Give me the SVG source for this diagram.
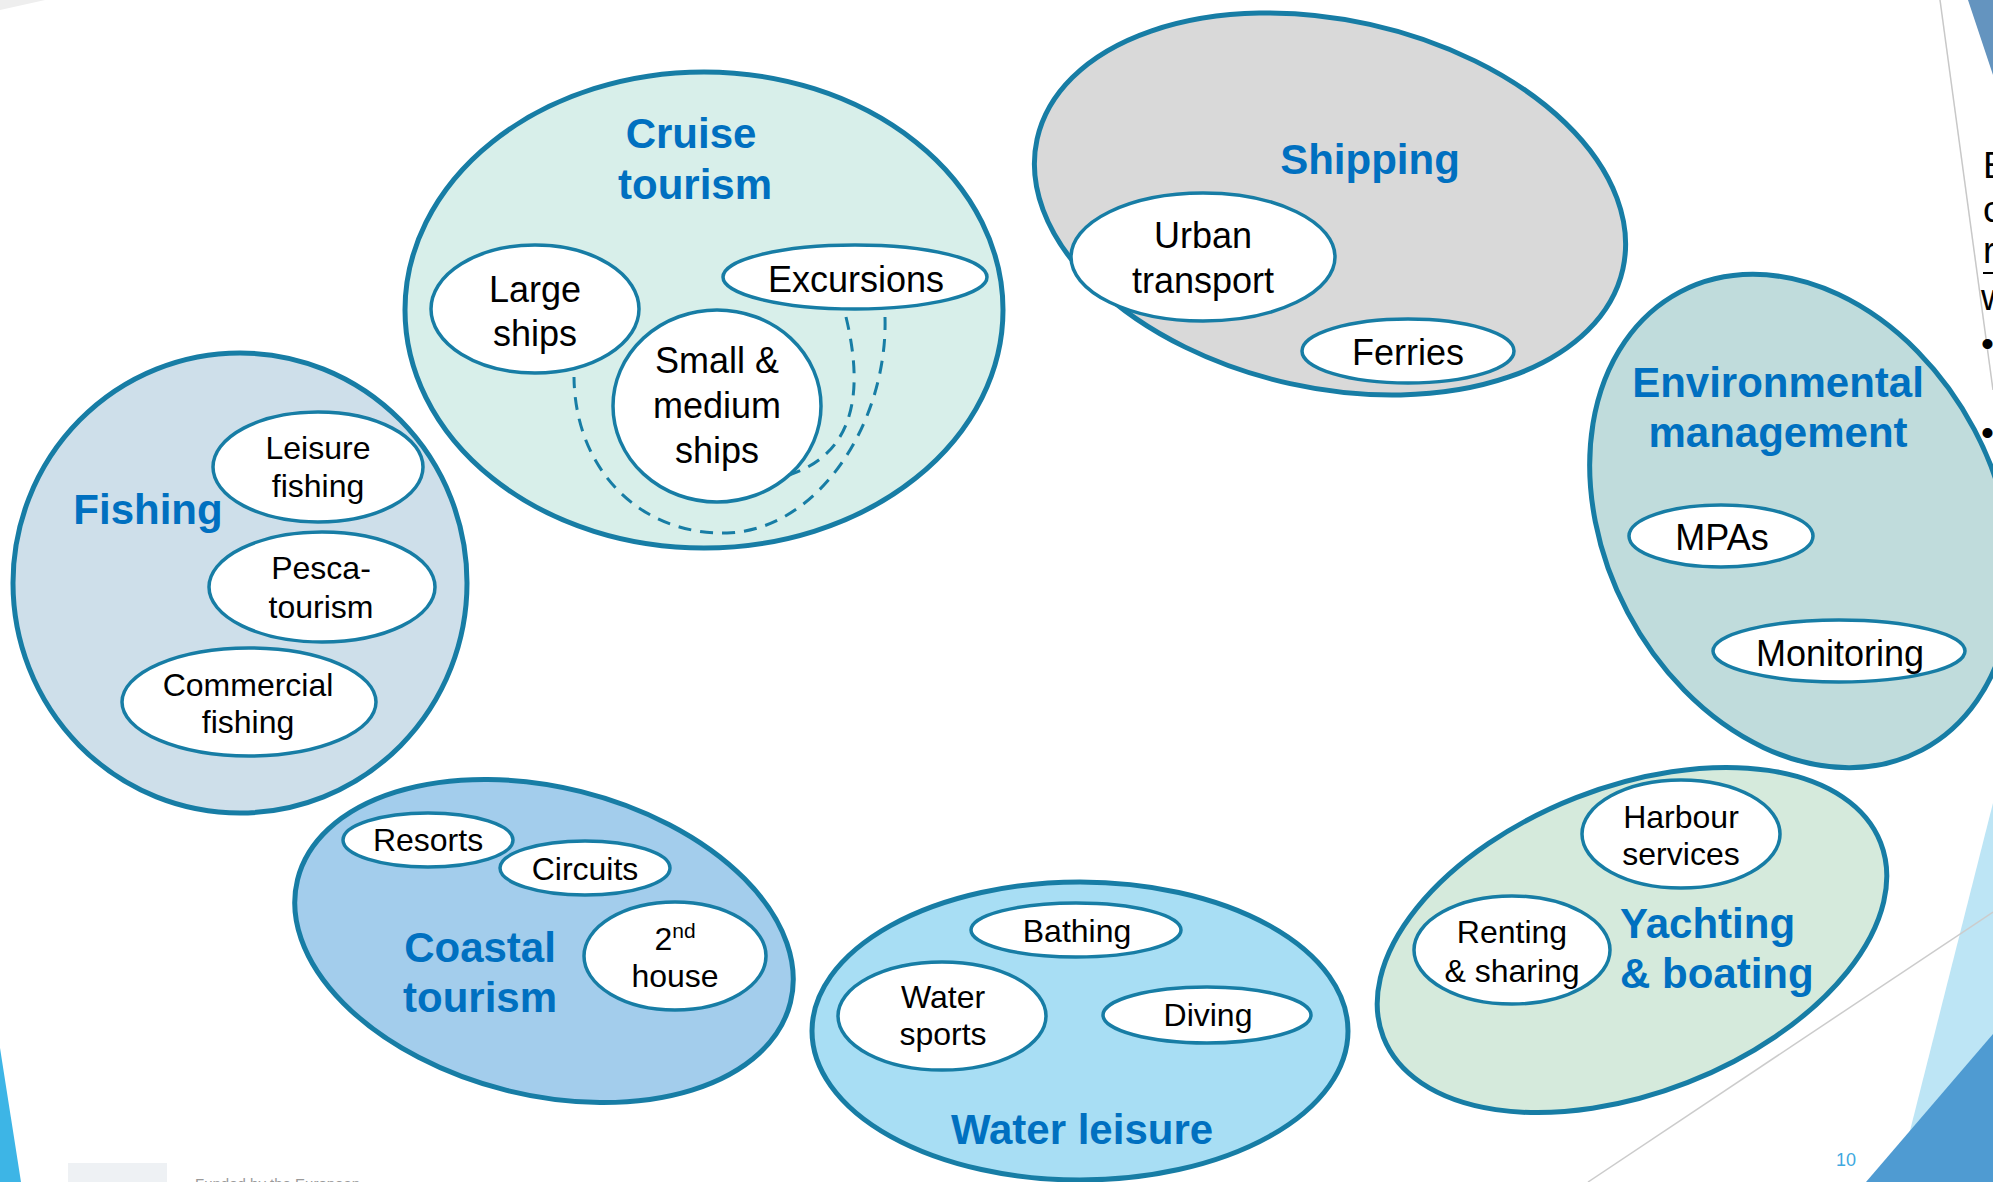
<svg xmlns="http://www.w3.org/2000/svg" width="1993" height="1182" viewBox="0 0 1993 1182">
<style>
.outer{stroke:#177DA5;stroke-width:5}
.inner{fill:#FFFFFF;stroke:#177DA5;stroke-width:3.5}
.title{font-family:"Liberation Sans",Arial,sans-serif;font-weight:bold;font-size:42px;fill:#0070C0;text-anchor:middle}
.lbl{font-family:"Liberation Sans",Arial,sans-serif;font-size:36px;fill:#000000;text-anchor:middle}
.lbs{font-family:"Liberation Sans",Arial,sans-serif;font-size:32px;fill:#000000;text-anchor:middle}
.bg{font-family:"Liberation Sans",Arial,sans-serif;font-size:37px;fill:#000000}
.dash{fill:none;stroke:#177DA5;stroke-width:3;stroke-dasharray:13 9}
</style>
<rect x="0" y="0" width="1993" height="1182" fill="#FFFFFF"/>
<g id="background">
  <polygon points="0,0 45,0 0,10" fill="#EEEEEE"/>
  <polygon points="0,1048 21,1182 0,1182" fill="#3DB5E6"/>
  <polygon points="1968,0 1993,0 1993,75" fill="#6494BF"/>
  <line x1="1940" y1="0" x2="1993" y2="390" stroke="#C8C8C8" stroke-width="1.5"/>
  <polygon points="1993,803 1897,1182 1993,1182" fill="#BDE5F5"/>
  <polygon points="1993,1034 1866,1182 1993,1182" fill="#4F9BD2"/>
  <line x1="1993" y1="912" x2="1588" y2="1182" stroke="#CCCCCC" stroke-width="1.5"/>
  <text class="bg" x="1983" y="178">E</text>
  <text class="bg" x="1983" y="222">c</text>
  <text class="bg" x="1983" y="263">r</text>
  <line x1="1983" y1="273" x2="1993" y2="273" stroke="#000000" stroke-width="2"/>
  <text class="bg" x="1981" y="310">w</text>
  <text class="bg" x="1981" y="356">•</text>
  <text class="bg" x="1981" y="445">•</text>
  <text x="1846" y="1166" font-family="'Liberation Sans',Arial,sans-serif" font-size="18" fill="#3FA9E0" text-anchor="middle">10</text>
  <rect x="68" y="1163" width="99" height="19" fill="#EEF1F4"/>
  <text x="195" y="1189" font-family="'Liberation Sans',Arial,sans-serif" font-size="15" fill="#9A9A9A">Funded by the European</text>
</g>

<g id="cruise-tourism">
  <ellipse class="outer" cx="704" cy="310" rx="299" ry="238" fill="#D8EFEA"/>
  <text class="title" x="691" y="148">Cruise</text>
  <text class="title" x="695" y="199">tourism</text>
  <g id="large-ships">
    <ellipse class="inner" cx="535" cy="309" rx="104" ry="64"/>
    <text class="lbl" x="535" y="302">Large</text>
    <text class="lbl" x="535" y="346">ships</text>
  </g>
  <g id="excursions">
    <ellipse class="inner" cx="855" cy="277" rx="132" ry="32"/>
    <text class="lbl" x="856" y="292">Excursions</text>
  </g>
  <g id="small-medium-ships">
    <ellipse class="inner" cx="717" cy="406" rx="104" ry="96"/>
    <text class="lbl" x="717" y="373">Small &amp;</text>
    <text class="lbl" x="717" y="418">medium</text>
    <text class="lbl" x="717" y="463">ships</text>
  </g>
</g>

<g id="fishing">
  <ellipse class="outer" cx="240" cy="583" rx="227" ry="230" fill="#CEDFEA"/>
  <text class="title" x="148" y="524">Fishing</text>
  <g id="leisure-fishing">
    <ellipse class="inner" cx="318" cy="467" rx="105" ry="55"/>
    <text class="lbs" x="318" y="459">Leisure</text>
    <text class="lbs" x="318" y="497">fishing</text>
  </g>
  <g id="pesca-tourism">
    <ellipse class="inner" cx="322" cy="587" rx="113" ry="55"/>
    <text class="lbs" x="321" y="579">Pesca-</text>
    <text class="lbs" x="321" y="618">tourism</text>
  </g>
  <g id="commercial-fishing">
    <ellipse class="inner" cx="249" cy="702" rx="127" ry="54"/>
    <text class="lbs" x="248" y="696">Commercial</text>
    <text class="lbs" x="248" y="733">fishing</text>
  </g>
</g>

<g id="shipping">
  <ellipse class="outer" cx="1330" cy="204" rx="300" ry="184" transform="rotate(12.5 1330 204)" fill="#D9D9D9"/>
  <text class="title" x="1370" y="174">Shipping</text>
  <g id="urban-transport">
    <ellipse class="inner" cx="1203" cy="257" rx="132" ry="64"/>
    <text class="lbl" x="1203" y="248">Urban</text>
    <text class="lbl" x="1203" y="293">transport</text>
  </g>
  <g id="ferries">
    <ellipse class="inner" cx="1408" cy="351" rx="106" ry="32"/>
    <text class="lbl" x="1408" y="365">Ferries</text>
  </g>
</g>

<g id="environmental-management">
  <ellipse class="outer" cx="1801" cy="521" rx="259" ry="196" transform="rotate(62.2 1801 521)" fill="#C0DCDC"/>
  <text class="title" x="1778" y="397">Environmental</text>
  <text class="title" x="1778" y="447">management</text>
  <g id="mpas">
    <ellipse class="inner" cx="1721" cy="536" rx="92" ry="31"/>
    <text class="lbl" x="1722" y="550">MPAs</text>
  </g>
  <g id="monitoring">
    <ellipse class="inner" cx="1839" cy="651" rx="126" ry="31"/>
    <text class="lbl" x="1840" y="666">Monitoring</text>
  </g>
</g>

<g id="coastal-tourism">
  <ellipse class="outer" cx="544" cy="941" rx="254" ry="154" transform="rotate(14 544 941)" fill="#A3CDEC"/>
  <text class="title" x="480" y="962">Coastal</text>
  <text class="title" x="480" y="1012">tourism</text>
  <g id="resorts">
    <ellipse class="inner" cx="428" cy="840" rx="85" ry="27"/>
    <text class="lbs" x="428" y="851">Resorts</text>
  </g>
  <g id="circuits">
    <ellipse class="inner" cx="585" cy="868" rx="85" ry="27"/>
    <text class="lbs" x="585" y="880">Circuits</text>
  </g>
  <g id="second-house">
    <ellipse class="inner" cx="675" cy="956" rx="91" ry="54"/>
    <text class="lbs" x="675" y="950">2<tspan font-size="21" dy="-12">nd</tspan></text>
    <text class="lbs" x="675" y="987">house</text>
  </g>
</g>

<g id="water-leisure">
  <ellipse class="outer" cx="1080" cy="1031" rx="268" ry="149" fill="#A8DEF4"/>
  <text class="title" x="1082" y="1144">Water leisure</text>
  <g id="bathing">
    <ellipse class="inner" cx="1076" cy="930" rx="105" ry="27"/>
    <text class="lbs" x="1077" y="942">Bathing</text>
  </g>
  <g id="water-sports">
    <ellipse class="inner" cx="942" cy="1016" rx="104" ry="54"/>
    <text class="lbs" x="943" y="1008">Water</text>
    <text class="lbs" x="943" y="1045">sports</text>
  </g>
  <g id="diving">
    <ellipse class="inner" cx="1207" cy="1015" rx="104" ry="28"/>
    <text class="lbs" x="1208" y="1026">Diving</text>
  </g>
</g>

<g id="yachting-boating">
  <ellipse class="outer" cx="1632" cy="940" rx="267" ry="153" transform="rotate(-21.4 1632 940)" fill="#D5EADC"/>
  <text class="title" x="1620" y="938" style="text-anchor:start">Yachting</text>
  <text class="title" x="1620" y="988" style="text-anchor:start">&amp; boating</text>
  <g id="harbour-services">
    <ellipse class="inner" cx="1681" cy="834" rx="99" ry="54"/>
    <text class="lbs" x="1681" y="828">Harbour</text>
    <text class="lbs" x="1681" y="865">services</text>
  </g>
  <g id="renting-sharing">
    <ellipse class="inner" cx="1512" cy="950" rx="98" ry="54"/>
    <text class="lbs" x="1512" y="943">Renting</text>
    <text class="lbs" x="1512" y="982">&amp; sharing</text>
  </g>
</g>

<g id="connectors">
  <path class="dash" d="M 885 317 C 888 420, 820 530, 727 533 C 640 535, 575 470, 574 377"/>
  <path class="dash" d="M 846 317 C 866 400, 850 455, 789 475"/>
</g>
</svg>
